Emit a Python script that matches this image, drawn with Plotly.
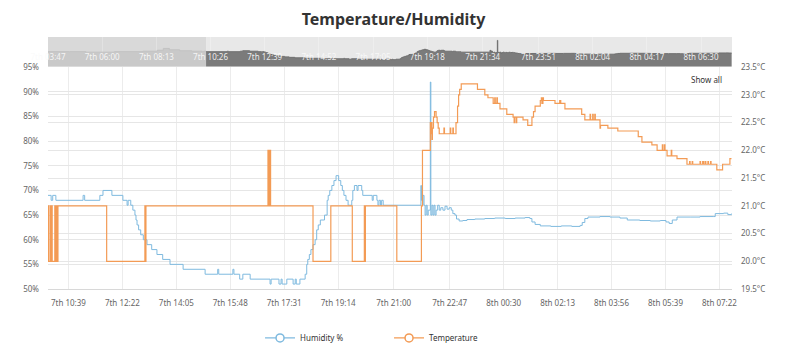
import pandas as pd
import plotly.graph_objects as go

DATE_PREFIX = "2019-06-"

# ---------------- data ----------------
hum_times = [
    "07 10:00", "07 10:06", "07 10:09", "07 10:15", "07 11:07", "07 11:10", "07 11:39", "07 11:45",
    "07 12:02", "07 12:23", "07 12:31", "07 12:33", "07 12:38", "07 12:42", "07 12:46", "07 12:48",
    "07 12:50", "07 12:53", "07 12:57", "07 13:02", "07 13:09", "07 13:18", "07 13:28", "07 13:39",
    "07 13:53", "07 14:18", "07 15:00", "07 15:24", "07 15:26", "07 15:53", "07 15:55", "07 16:06",
    "07 16:12", "07 16:26", "07 17:04", "07 17:06", "07 17:21", "07 17:25", "07 17:27", "07 17:36",
    "07 17:48", "07 17:52", "07 17:54", "07 18:01", "07 18:11", "07 18:14", "07 18:16", "07 18:19",
    "07 18:22", "07 18:26", "07 18:30", "07 18:33", "07 18:36", "07 18:40", "07 18:48", "07 18:53",
    "07 18:55", "07 18:58", "07 19:02", "07 19:06", "07 19:10", "07 19:15", "07 19:19", "07 19:22",
    "07 19:25", "07 19:29", "07 19:33", "07 19:40", "07 19:42", "07 19:45", "07 19:50", "07 19:52",
    "07 19:59", "07 20:01", "07 20:19", "07 20:21", "07 20:28", "07 20:30", "07 20:32", "07 20:35",
    "07 20:37", "07 20:40", "07 21:52", "07 21:53", "07 21:54", "07 21:55", "07 21:56", "07 21:58",
    "07 22:00", "07 22:02", "07 22:04", "07 22:06", "07 22:10", "07 22:11", "07 22:13", "07 22:15",
    "07 22:17", "07 22:19", "07 22:21", "07 22:24", "07 22:27", "07 22:30", "07 22:34", "07 22:38",
    "07 22:42", "07 22:46", "07 22:50", "07 22:53", "07 22:57", "07 23:00", "07 23:05", "07 23:12",
    "07 23:20", "07 23:35", "07 23:54", "08 00:13", "08 00:33", "08 00:52", "08 01:11", "08 01:20",
    "08 01:24", "08 01:30", "08 01:40", "08 02:00", "08 02:20", "08 02:40", "08 02:56", "08 03:00",
    "08 03:05", "08 03:11", "08 03:34", "08 03:53", "08 04:12", "08 04:26", "08 04:50", "08 05:10",
    "08 05:29", "08 05:40", "08 05:46", "08 05:52", "08 06:01", "08 06:26", "08 06:45", "08 07:10",
    "08 07:14", "08 07:30", "08 07:38", "08 07:45",
]
hum_values = [
    69, 68, 69, 68, 69, 68, 69, 70,
    69, 68, 67, 68, 67, 66, 65, 64,
    63, 62, 61, 60, 59, 58, 57, 56,
    55, 54, 53, 54, 53, 54, 53, 52,
    53, 52, 51, 52, 51, 52, 51, 52,
    51, 52, 51, 52, 53, 55, 56, 57,
    58, 59, 60, 62, 63, 64, 65, 68,
    69, 70, 71, 72, 73, 72, 71, 70,
    69, 68, 67, 68, 70, 71, 70, 71,
    70, 69, 68, 69, 68, 67, 68, 67,
    68, 67, 71, 68, 70, 67, 69, 67,
    65, 67, 65, 66, 92, 65, 67, 65,
    67, 65, 66, 67, 66, 66.5, 66, 66.8,
    66.2, 66.5, 66, 65.3, 65, 64.2, 63.8, 63.9,
    64.1, 64.2, 64.3, 64.4, 64.3, 64.4, 64.5, 64.3,
    63.6, 63.1, 62.8, 62.7, 62.8, 62.7, 62.9, 63.5,
    64.3, 64.6, 64.7, 64.6, 64.4, 64.0, 63.9, 63.8,
    63.9, 63.6, 63.3, 64.0, 64.6, 64.6, 64.7, 64.7,
    65.3, 65.4, 65.1, 65.3,
]

temp_times = [
    "07 10:00", "07 10:01", "07 10:02", "07 10:05", "07 10:06", "07 10:07", "07 10:08", "07 10:13",
    "07 10:14", "07 10:16", "07 10:17", "07 10:19", "07 11:52", "07 13:05", "07 13:06", "07 13:07",
    "07 17:00", "07 17:01", "07 17:02", "07 17:03", "07 17:04", "07 17:05", "07 18:26", "07 19:00",
    "07 19:41", "07 20:04", "07 20:05", "07 20:06", "07 21:06", "07 21:53", "07 21:55", "07 22:10",
    "07 22:11", "07 22:12", "07 22:13", "07 22:14", "07 22:16", "07 22:18", "07 22:21", "07 22:23",
    "07 22:25", "07 22:27", "07 22:36", "07 22:37", "07 22:48", "07 22:49", "07 22:53", "07 22:54",
    "07 22:59", "07 23:02", "07 23:04", "07 23:06", "07 23:09", "07 23:40", "07 23:54", "08 00:00",
    "08 00:10", "08 00:13", "08 00:14", "08 00:17", "08 00:18", "08 00:23", "08 00:36", "08 00:48",
    "08 00:50", "08 00:51", "08 00:54", "08 00:55", "08 01:07", "08 01:16", "08 01:24", "08 01:27",
    "08 01:30", "08 01:40", "08 01:42", "08 01:43", "08 01:45", "08 01:46", "08 02:08", "08 02:17",
    "08 02:19", "08 02:27", "08 02:59", "08 03:05", "08 03:15", "08 03:16", "08 03:20", "08 03:21",
    "08 03:24", "08 03:25", "08 03:34", "08 03:35", "08 03:49", "08 04:08", "08 04:47", "08 04:54",
    "08 05:13", "08 05:23", "08 05:33", "08 05:34", "08 05:37", "08 05:38", "08 05:42", "08 05:50",
    "08 05:51", "08 06:01", "08 06:20", "08 06:25", "08 06:26", "08 06:30", "08 06:31", "08 06:45",
    "08 06:46", "08 06:50", "08 06:52", "08 06:55", "08 06:56", "08 07:00", "08 07:01", "08 07:05",
    "08 07:06", "08 07:17", "08 07:28", "08 07:42", "08 07:45",
]
temp_values = [
    20, 21, 20, 21, 20, 21, 20, 21,
    20, 21, 20, 21, 20, 21, 20, 21,
    22, 21, 22, 21, 22, 21, 20, 21,
    20, 21, 20, 21, 20, 21, 22, 22.5,
    22.3, 22.5, 22.2, 22.4, 22.6, 22.7, 22.6, 22.5,
    22.4, 22.3, 22.4, 22.3, 22.4, 22.3, 22.4, 22.3,
    22.5, 22.8, 23.0, 23.1, 23.2, 23.1, 23.0, 22.95,
    22.85, 22.95, 22.85, 22.95, 22.85, 22.75, 22.65, 22.6,
    22.5, 22.6, 22.5, 22.6, 22.55, 22.45, 22.6, 22.7,
    22.8, 22.9, 22.95, 22.85, 22.95, 22.9, 22.85, 22.9,
    22.85, 22.75, 22.65, 22.55, 22.65, 22.55, 22.65, 22.55,
    22.65, 22.55, 22.4, 22.45, 22.4, 22.35, 22.25, 22.15,
    22.1, 22.0, 22.1, 22.0, 22.1, 22.0, 21.9, 22.0,
    21.9, 21.85, 21.75, 21.8, 21.75, 21.8, 21.75, 21.8,
    21.75, 21.8, 21.75, 21.8, 21.75, 21.8, 21.75, 21.8,
    21.75, 21.65, 21.75, 21.85, 21.85,
]

# humidity before the zoomed window (shown only in the navigator)
nav_pre_times = ["07 03:47", "07 04:40", "07 05:20", "07 06:30", "07 07:40", "07 08:15",
                 "07 08:30", "07 08:45", "07 09:10", "07 09:40"]
nav_pre_values = [68, 68, 67, 68, 69, 71, 75, 72, 70, 69]

x_tick_times = ["07 10:39", "07 12:22", "07 14:05", "07 15:48", "07 17:31", "07 19:14", "07 21:00",
                "07 22:47", "08 00:30", "08 02:13", "08 03:56", "08 05:39", "08 07:22"]
x_tick_labels = ["7th 10:39", "7th 12:22", "7th 14:05", "7th 15:48", "7th 17:31", "7th 19:14",
                 "7th 21:00", "7th 22:47", "8th 00:30", "8th 02:13", "8th 03:56", "8th 05:39",
                 "8th 07:22"]
nav_tick_times = ["07 03:47", "07 06:00", "07 08:13", "07 10:26", "07 12:39", "07 14:52", "07 17:05",
                  "07 19:18", "07 21:34", "07 23:51", "08 02:04", "08 04:17", "08 06:30"]
nav_tick_labels = ["7th 03:47", "7th 06:00", "7th 08:13", "7th 10:26", "7th 12:39", "7th 14:52",
                   "7th 17:05", "7th 19:18", "7th 21:34", "7th 23:51", "8th 02:04", "8th 04:17",
                   "8th 06:30"]
hum_ticks = [50, 55, 60, 65, 70, 75, 80, 85, 90, 95]
hum_tick_labels = [f"{v}%" for v in hum_ticks]
temp_ticks = [19.5, 20.0, 20.5, 21.0, 21.5, 22.0, 22.5, 23.0, 23.5]
temp_tick_labels = [f"{v:.1f}°C" for v in temp_ticks]

main_range = ["07 10:00", "08 07:46"]
nav_range = ["07 03:47", "08 07:46"]
nav_selection_start = "07 10:15"


def ts(lst):
    return pd.to_datetime([DATE_PREFIX + s for s in lst])


hum_t = ts(hum_times)
temp_t = ts(temp_times)
pre_t = ts(nav_pre_times)
sel_start = ts([nav_selection_start])[0]

hum = pd.Series(hum_values, index=hum_t)
nav_all = pd.concat([pd.Series(nav_pre_values, index=pre_t), hum])
before = nav_all[nav_all.index <= sel_start]
after = nav_all[nav_all.index > sel_start]
boundary_val = before.iloc[-1]
light = pd.concat([before, pd.Series([boundary_val], index=[sel_start])])
dark = pd.concat([pd.Series([boundary_val], index=[sel_start]), after])

BLUE = "#7fbadf"
ORANGE = "#f39b55"
FONT = "Noto Sans"

fig = go.Figure()

# navigator areas
fig.add_trace(go.Scatter(x=light.index, y=light.values, xaxis="x2", yaxis="y3", mode="lines",
                         line=dict(color="#c2c2c2", width=1, shape="hv"), fill="tozeroy",
                         fillcolor="#c9c9c9", showlegend=False, hoverinfo="skip"))
fig.add_trace(go.Scatter(x=dark.index, y=dark.values, xaxis="x2", yaxis="y3", mode="lines",
                         line=dict(color="#707070", width=1, shape="hv"), fill="tozeroy",
                         fillcolor="#7b7b7b", showlegend=False, hoverinfo="skip"))

# main series
fig.add_trace(go.Scatter(x=hum_t, y=hum_values, xaxis="x", yaxis="y", mode="lines",
                         line=dict(color=BLUE, width=1, shape="hv"), name="Humidity %",
                         showlegend=False))
fig.add_trace(go.Scatter(x=temp_t, y=temp_values, xaxis="x", yaxis="y2", mode="lines",
                         line=dict(color=ORANGE, width=1.2, shape="hv"), name="Temperature",
                         showlegend=False))

# legend entries
for name, col in [("Humidity %", BLUE), ("Temperature", ORANGE)]:
    fig.add_trace(go.Scatter(x=[None], y=[None], xaxis="x", yaxis="y", mode="lines+markers",
                             name=name, line=dict(color=col, width=1.2),
                             marker=dict(symbol="circle", size=8, color="white",
                                         line=dict(color=col, width=1.5))))

nr = ts(nav_range)
fig.update_layout(
    width=787, height=364,
    margin=dict(l=48, r=55, t=37, b=75),
    paper_bgcolor="white", plot_bgcolor="white",
    font=dict(family=FONT, size=8, color="#666666"),
    title=dict(text="<b>Temperature/Humidity</b>", x=0.5, xanchor="center", xref="container",
               y=1 - 19 / 364, yanchor="middle", yref="container",
               font=dict(family=FONT, size=16, color="#333333")),
    xaxis=dict(domain=[0, 1], anchor="y", range=list(ts(main_range)), type="date",
               tickvals=ts(x_tick_times), ticktext=x_tick_labels, showgrid=True,
               gridcolor="#ececec", gridwidth=1, showline=True, linecolor="#d8d8d8",
               ticks="", tickfont=dict(size=8, color="#666666"), ticklabelstandoff=6,
               zeroline=False, automargin=False),
    yaxis=dict(domain=[0, 0.880], anchor="x", range=[50, 95], tickvals=hum_ticks,
               ticktext=hum_tick_labels, showgrid=True, gridcolor="#e6e6e6", zeroline=False,
               tickfont=dict(size=8, color="#666666"), ticklabelstandoff=8, automargin=False),
    yaxis2=dict(overlaying="y", side="right", anchor="x", range=[19.5, 23.5],
                tickvals=temp_ticks, ticktext=temp_tick_labels, showgrid=True,
                gridcolor="#e6e6e6", zeroline=False, tickfont=dict(size=8, color="#666666"),
                ticklabelstandoff=8, automargin=False),
    xaxis2=dict(domain=[0, 1], anchor="y3", range=list(nr), type="date",
                tickvals=ts(nav_tick_times), ticktext=nav_tick_labels, showgrid=True,
                gridcolor="rgba(255,255,255,0.25)", ticks="", showline=False, zeroline=False,
                ticklabelposition="inside", ticklabeloverflow="allow", ticklabelstandoff=2,
                automargin=False,
                tickfont=dict(size=8, color="rgba(250,250,250,0.92)")),
    yaxis3=dict(domain=[0.883, 1], anchor="x2", range=[36.6, 99.2], visible=False,
                showgrid=False, zeroline=False),
    legend=dict(orientation="h", x=0.31, xanchor="left", y=-0.194, yanchor="middle",
                font=dict(family=FONT, size=8, color="#333333"), bgcolor="rgba(0,0,0,0)",
                entrywidth=84),
    shapes=[
        dict(type="rect", xref="x2", yref="y3 domain", x0=nr[0], x1=sel_start, y0=0, y1=1,
             fillcolor="#d9d9d9", line=dict(width=0), layer="below"),
        dict(type="rect", xref="x2", yref="y3 domain", x0=sel_start, x1=nr[1], y0=0, y1=1,
             fillcolor="#e8e8e8", line=dict(width=0), layer="below"),
    ],
    annotations=[
        dict(text="Show all", xref="paper", yref="paper", x=0.962, y=0.833, showarrow=False,
             xanchor="center", yanchor="middle", font=dict(family=FONT, size=8, color="#333333")),
    ],
)

fig.write_html("out.html", config={"displayModeBar": False},
               post_script="document.body.style.margin='0';")
